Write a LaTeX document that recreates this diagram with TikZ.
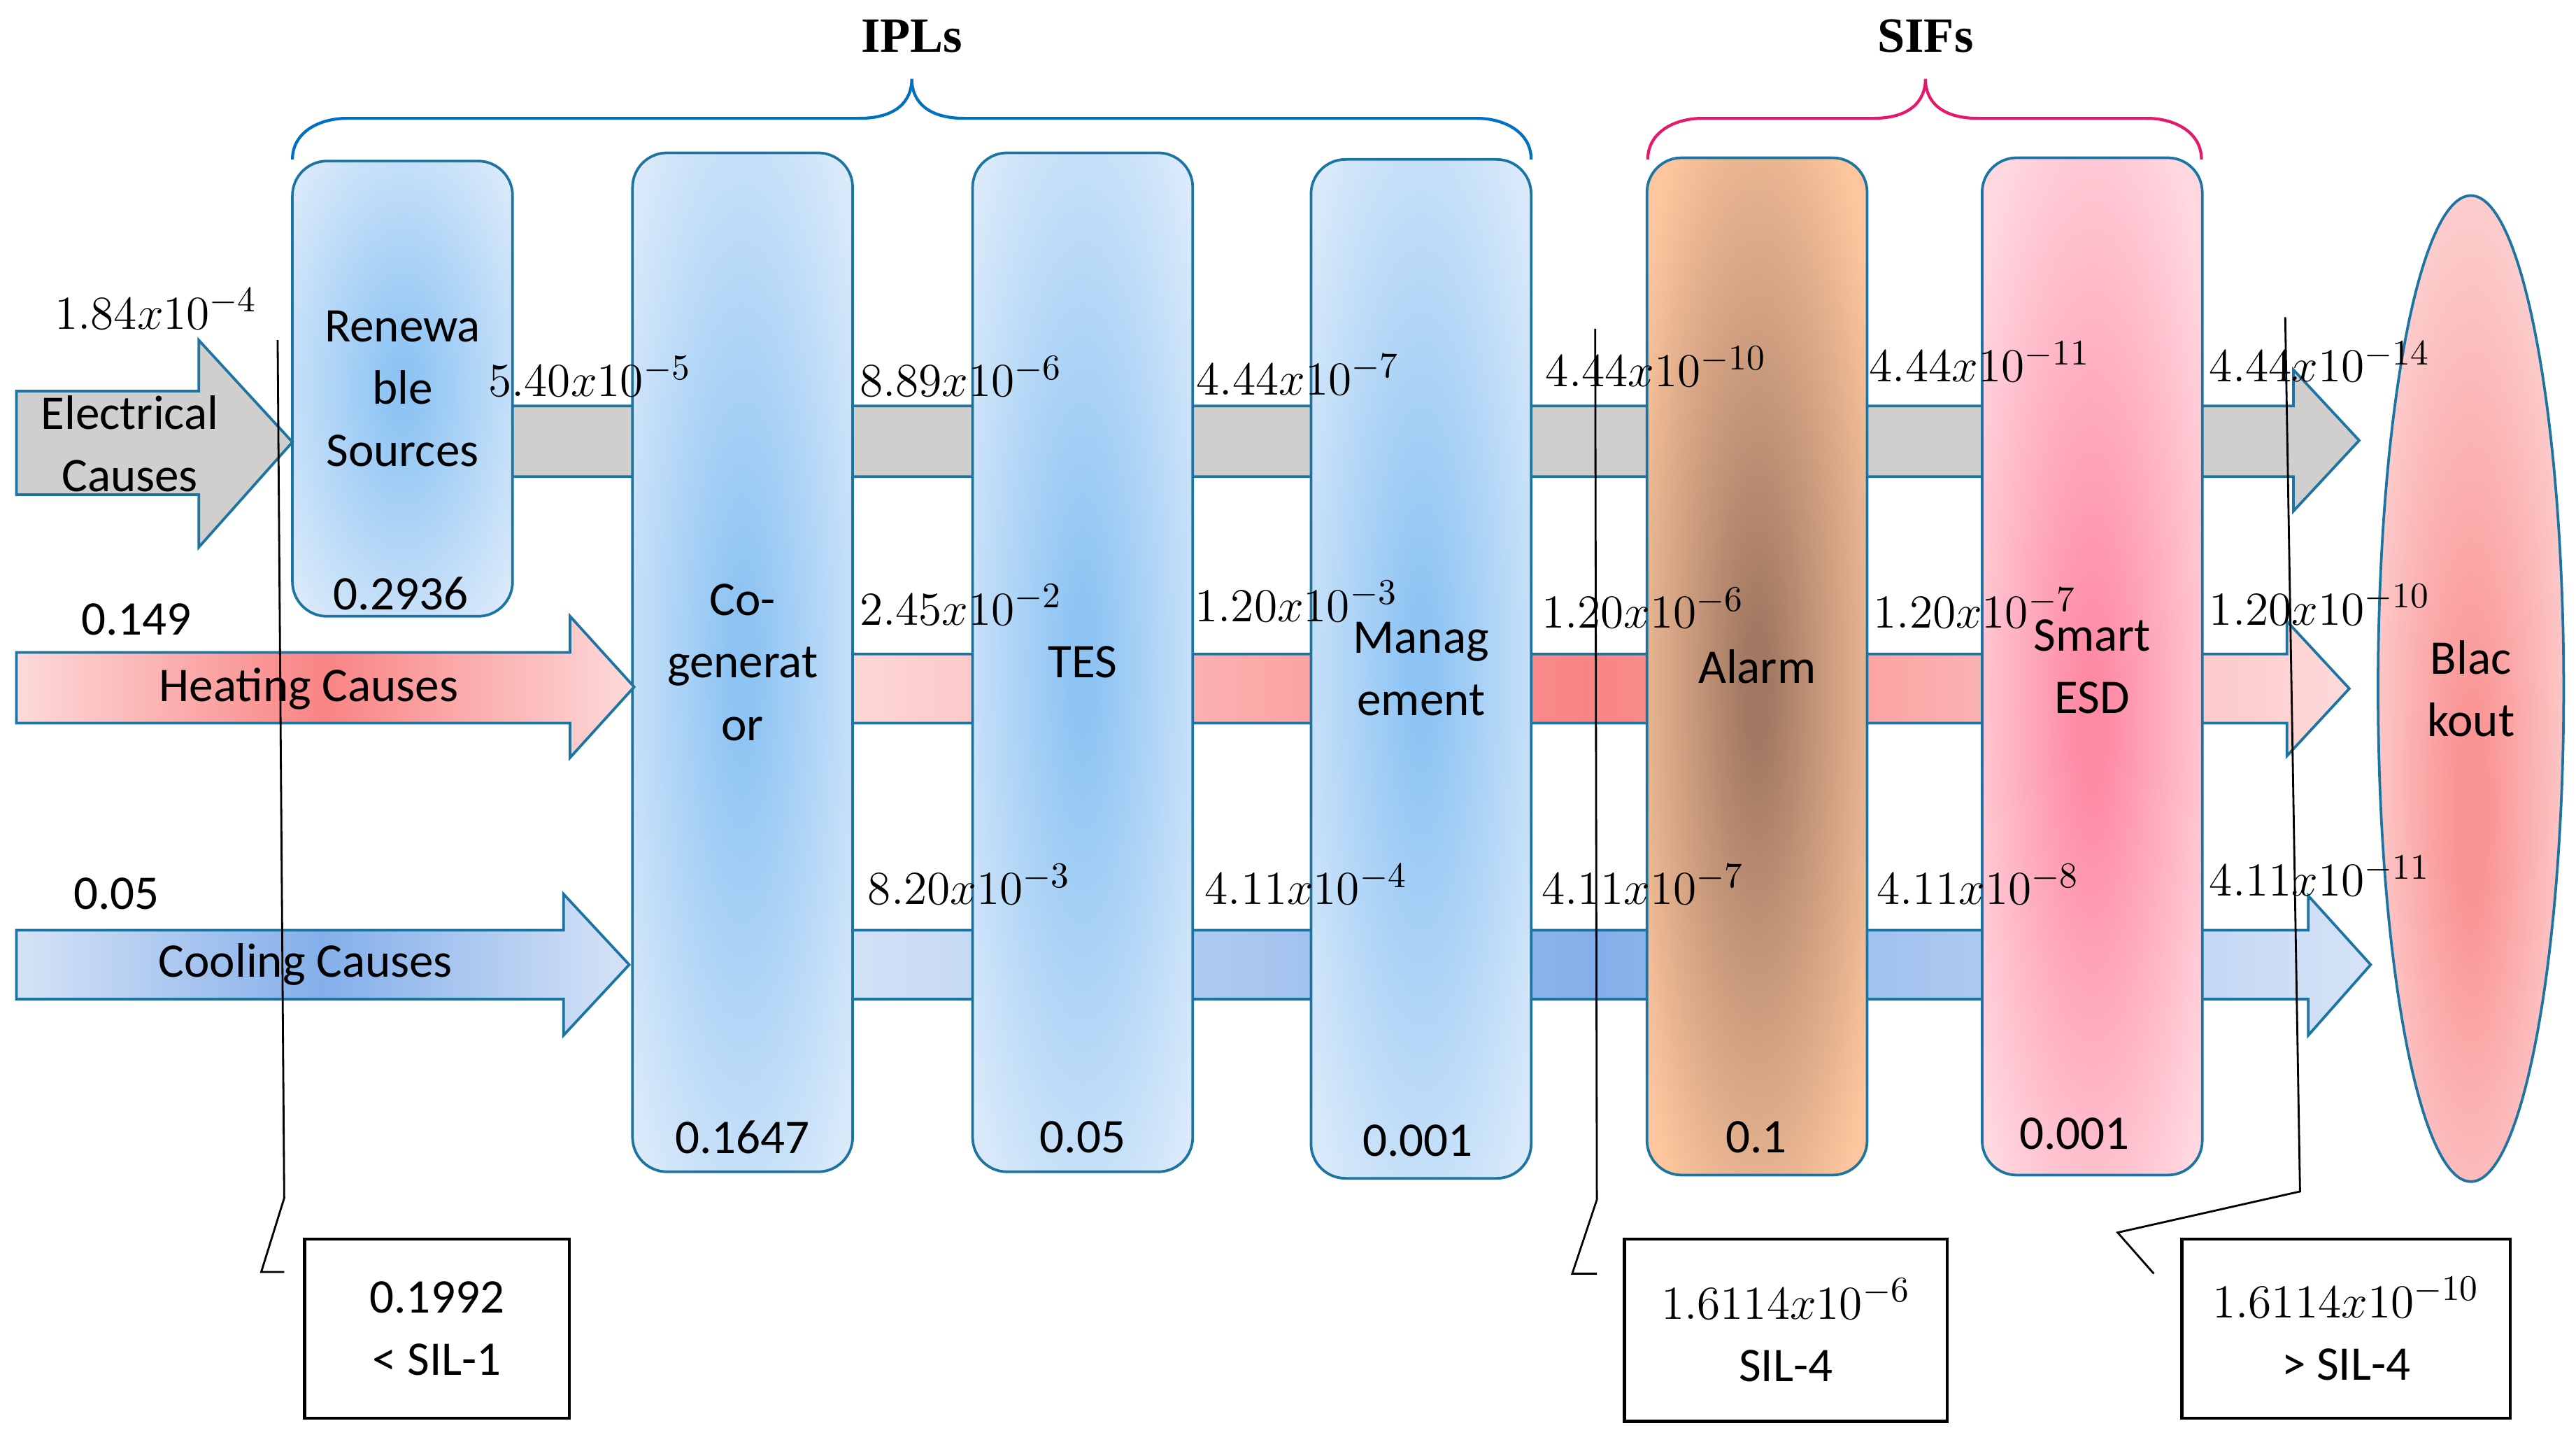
\documentclass[tikz,border=0pt]{standalone}
\usepackage{fontspec}
\setmainfont{Carlito}
\newfontfamily\headfont{Liberation Serif}
\usetikzlibrary{shapes.geometric}

\definecolor{edgeblue}{HTML}{1B74A1}
\definecolor{iplin}{HTML}{8EC4F3}
\definecolor{iplout}{HTML}{DAEAFA}
\definecolor{bandgray}{HTML}{D0CFCE}
\definecolor{heatend}{HTML}{FDDADA}
\definecolor{heatmid}{HTML}{F98484}
\definecolor{coolend}{HTML}{D6E3F6}
\definecolor{coolmid}{HTML}{84AFEA}
\definecolor{iplbrace}{HTML}{0070C0}
\definecolor{sifbrace}{HTML}{E6186C}
\definecolor{alarmout}{HTML}{FDC69E}
\definecolor{alarmin}{HTML}{A37963}
\definecolor{esdout}{HTML}{FFD8E0}
\definecolor{esdin}{HTML}{FE8AA4}
\definecolor{blkin}{HTML}{FA9393}
\definecolor{blkout}{HTML}{FDD9D9}

\pgfdeclareradialshading{iplglow}{\pgfpoint{0bp}{0bp}}{color(0bp)=(iplin); color(3bp)=(iplin);
  color(33bp)=(iplout); color(50bp)=(iplout)}
\pgfdeclareradialshading{alarmglow}{\pgfpoint{0bp}{-1bp}}{color(0bp)=(alarmin); color(3bp)=(alarmin);
  color(32bp)=(alarmout); color(50bp)=(alarmout)}
\pgfdeclareradialshading{esdglow}{\pgfpoint{0bp}{-3bp}}{color(0bp)=(esdin); color(3bp)=(esdin);
  color(32bp)=(esdout); color(50bp)=(esdout)}
\pgfdeclareradialshading{blkglow}{\pgfpoint{0bp}{-7bp}}{color(0bp)=(blkin); color(4bp)=(blkin);
  color(33bp)=(blkout); color(50bp)=(blkout)}

\newcommand{\lbl}{\fontsize{14.7}{19}\selectfont}
\newcommand{\mth}{\fontsize{15.5}{19}\selectfont}

\tikzset{
  layer/.style={draw=edgeblue, line width=0.8pt, rounded corners=10.5pt,
    minimum width=67pt, align=center, font=\lbl, inner sep=0pt},
  ipl/.style={layer, shading=iplglow},
  flow/.style={draw=edgeblue, line width=0.8pt},
  heatflow/.style={flow, left color=heatend, right color=heatend, middle color=heatmid},
  coolflow/.style={flow, left color=coolend, right color=coolend, middle color=coolmid},
  prob/.style={font=\mth, inner sep=0pt},
  txt/.style={font=\lbl, inner sep=0pt, align=center},
  sil/.style={draw, line width=1pt, font=\lbl, align=center, inner sep=0pt},
  callout/.style={line width=0.6pt},
  brace/.style={line width=0.9pt},
}

\begin{document}
\begin{tikzpicture}[x=0.5pt, y=-0.5pt]

	\useasboundingbox (0,0) rectangle (1568,873);

	% bands through the layers
	\path[flow, fill=bandgray] (300,247) -- (1396,247) -- (1396,225) -- (1436,268)
		-- (1396,311) -- (1396,290) -- (300,290) -- cycle;
	\path[heatflow] (500,398) -- (1392,398) -- (1392,378) -- (1430,419) -- (1392,460)
		-- (1392,440) -- (500,440) -- cycle;
	\path[coolflow] (500,566) -- (1405,566) -- (1405,545) -- (1443,587) -- (1405,630)
		-- (1405,608) -- (500,608) -- cycle;

	% IPL layers
	\node[ipl, minimum height=138.5pt] (rs) at (245,236.5) {Renewa\\ble\\Sources};
	\node[ipl, minimum height=310pt] (cg) at (452,403) {Co-\\generat\\or};
	\node[ipl, minimum height=310pt] (tes) at (659,403) {TES};
	\node[ipl, minimum height=310pt] (mg) at (865,407) {Manag\\ement};

	% SIF layers
	\node[layer, shading=alarmglow, minimum height=309.5pt] (alarm) at (1069.5,405.5) {Alarm};
	\node[layer, shading=esdglow, minimum height=309.5pt] (esd) at (1273.5,405.5) {Smart\\ESD};

	\node[ellipse, draw=edgeblue, line width=0.8pt, shading=blkglow,
		minimum width=56.5pt, minimum height=300pt, inner sep=0pt, align=center, font=\lbl]
		(blk) at (1504,419) {Blac\\kout};

	\foreach \nm/\px/\py/\val in {
			rsv/244/361/0.2936,
			cgv/452/692/0.1647,
			tesv/659/692/0.05,
			mgv/863/694/0.001,
			alv/1069/692/0.1,
			esv/1266/690/0.001
		} {
			\node[txt] (\nm) at (\px,\py) {\val};
		}

	% causes
	\path[flow, fill=bandgray] (10,238) -- (121,238) -- (121,207) -- (178,269)
		-- (121,333) -- (121,301) -- (10,301) -- cycle;
	\path[heatflow] (10,397) -- (347,397) -- (347,375) -- (386,418) -- (347,461)
		-- (347,440) -- (10,440) -- cycle;
	\path[coolflow] (10,566) -- (343,566) -- (343,544) -- (383,587) -- (343,630)
		-- (343,608) -- (10,608) -- cycle;

	\node[txt] (elec) at (79,270) {Electrical\\Causes};
	\node[txt] (heat) at (188,419) {Heating Causes};
	\node[txt] (cool) at (186,587) {Cooling Causes};

	\node[txt] (h0) at (83,377) {0.149};
	\node[txt] (c0) at (71,544) {0.05};

	% frequencies after each layer
	\foreach \nm/\px/\py/\val in {
			e0/95/188/1.84x10^{-4},
			e1/359/229/5.40x10^{-5},
			e2/585/229/8.89x10^{-6},
			e3/790/228/4.44x10^{-7},
			e4/1008/223/4.44x10^{-10},
			e5/1205/220/4.44x10^{-11},
			e6/1412/220/4.44x10^{-14},
			h2/585/368/2.45x10^{-2},
			h3/789/366/1.20x10^{-3},
			h4/1000/370/1.20x10^{-6},
			h5/1202/370/1.20x10^{-7},
			h6/1412/368/1.20x10^{-10},
			c2/590/538/8.20x10^{-3},
			c3/795/538/4.11x10^{-4},
			c4/1000/538/4.11x10^{-7},
			c5/1204/538/4.11x10^{-8},
			c6/1412/533/4.11x10^{-11}
		} {
			\node[prob] (\nm) at (\px,\py) {$\val$};
		}

	% braces
	\draw[brace, iplbrace] (178,97) .. controls (178,80) and (195,72) .. (211,72) -- (523,72)
		.. controls (545,72) and (555,62) .. (555,48) .. controls (555,62) and (565,72) .. (587,72)
		-- (899,72) .. controls (915,72) and (932,80) .. (932,97);
	\draw[brace, sifbrace] (1003,97) .. controls (1003,80) and (1020,72) .. (1036,72) -- (1140,72)
		.. controls (1162,72) and (1172,62) .. (1172,48) .. controls (1172,62) and (1182,72) .. (1204,72)
		-- (1307,72) .. controls (1323,72) and (1340,80) .. (1340,97);

	\node[font={\headfont\bfseries\fontsize{15}{18}\selectfont}] (ipls) at (555,22) {IPLs};
	\node[font={\headfont\bfseries\fontsize{15}{18}\selectfont}] (sifs) at (1172,22) {SIFs};

	% SIL callouts
	\node[sil, minimum width=80.5pt, minimum height=54.5pt] (sil1) at (266,808.5)
		{0.1992\\< SIL-1};
	\node[sil, minimum width=98.3pt, minimum height=55.5pt] (sil2) at (1087,809.5)
		{{\mth $1.6114x10^{-6}$}\\SIL-4};
	\node[sil, minimum width=100pt, minimum height=54.5pt] (sil3) at (1428,808.5)
		{{\mth $1.6114x10^{-10}$}\\> SIL-4};

	\coordinate (a1) at (169,207);
	\coordinate (a2) at (173,729);
	\coordinate (a3) at (159,774);
	\coordinate (a4) at (173,774);
	\coordinate (b1) at (971,200);
	\coordinate (b2) at (972,730);
	\coordinate (b3) at (957,775);
	\coordinate (b4) at (972,775);
	\coordinate (d1) at (1391,193);
	\coordinate (d2) at (1400,725);
	\coordinate (d3) at (1289,750);
	\coordinate (d4) at (1311,775);

	\draw[callout] (a1) -- (a2) -- (a3) -- (a4);
	\draw[callout] (b1) -- (b2) -- (b3) -- (b4);
	\draw[callout] (d1) -- (d2) -- (d3) -- (d4);

\end{tikzpicture}
\end{document}
